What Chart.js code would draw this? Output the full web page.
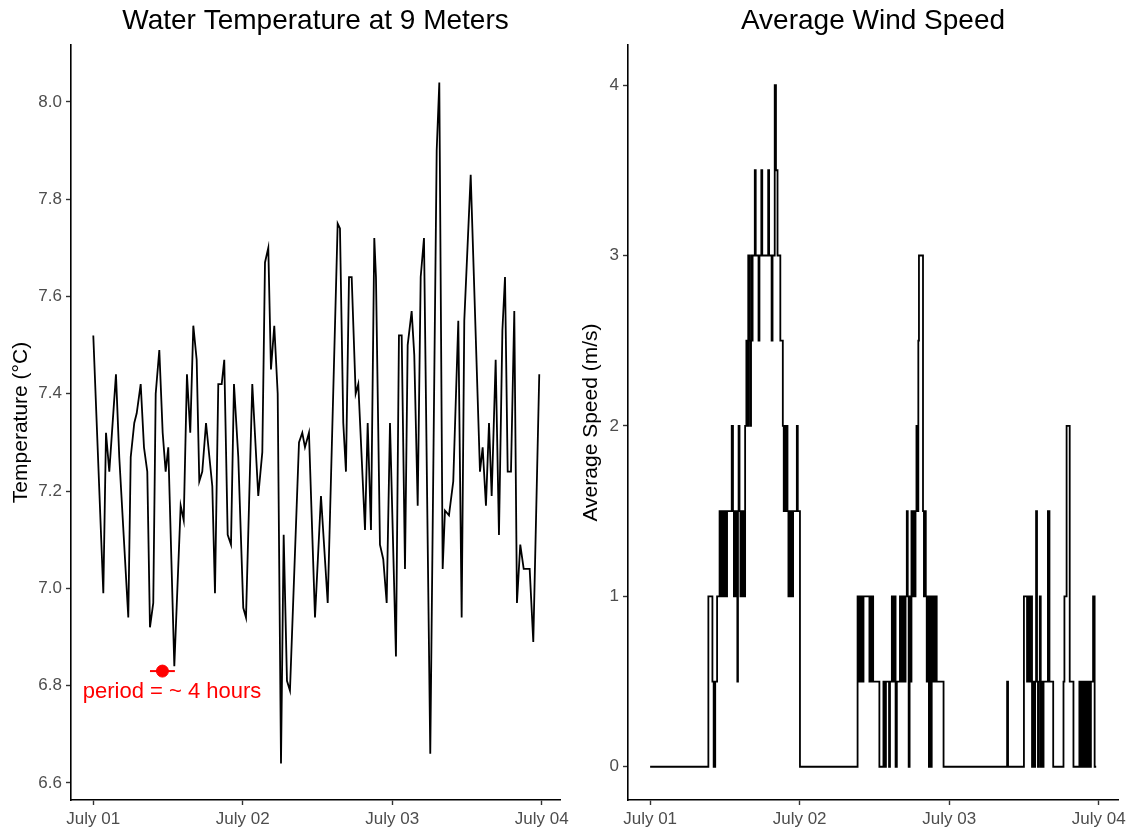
<!DOCTYPE html>
<html>
<head>
<meta charset="utf-8">
<script src="https://cdn.jsdelivr.net/npm/chart.js@4.4.1/dist/chart.umd.min.js"></script>
<style>
  body { margin: 0; background: #fff; }
  #wrap { position: relative; width: 1131px; height: 831px; }
  canvas { position: absolute; top: 0; }
  #tempChart { left: 0; }
  #windChart { left: 570px; }
</style>
</head>
<body>
<div id="wrap">
  <canvas id="tempChart" width="580" height="831"></canvas>
  <canvas id="windChart" width="561" height="831"></canvas>
</div>
<script>
// hours since July 01 00:00
const dayTicks = [0, 24, 48, 72];
const dayLabels = ['July 01', 'July 02', 'July 03', 'July 04'];

// water temperature at 9 m
const tempHours = [0.0, 1.61, 2.04, 2.57, 3.64, 4.17, 5.62, 6.01, 6.58, 6.97,
  7.61, 8.14, 8.67, 9.10, 9.63, 10.02, 10.60, 11.14, 11.62, 12.04,
  13.01, 14.03, 14.52, 15.04, 15.57, 16.06, 16.60, 17.02, 17.50, 18.10,
  19.11, 19.54, 20.07, 20.62, 21.03, 21.58, 22.11, 22.59, 23.28, 24.08,
  24.52, 25.53, 26.49, 27.14, 27.57, 28.10, 28.53, 29.06, 29.61, 30.14,
  30.57, 31.10, 31.58, 33.03, 33.56, 33.99, 34.63, 35.60, 36.56, 37.64,
  39.24, 39.61, 40.14, 40.57, 41.06, 41.49, 42.13, 42.55, 43.63, 44.06,
  44.59, 45.12, 45.39, 46.03, 46.56, 47.11, 47.64, 48.60, 49.08, 49.52,
  50.05, 50.48, 51.12, 51.54, 52.09, 52.57, 53.10, 54.11, 55.14, 55.56,
  56.10, 56.47, 57.11, 57.80, 58.61, 59.15, 59.57, 60.60, 62.09, 62.52,
  63.05, 63.54, 63.97, 64.61, 65.14, 65.69, 66.11, 66.54, 67.07, 67.60,
  68.03, 68.56, 69.11, 70.07, 70.65, 71.61];
const tempValues = [7.52, 6.99, 7.32, 7.24, 7.44, 7.27, 6.94, 7.27, 7.34, 7.36,
  7.42, 7.29, 7.24, 6.92, 6.97, 7.40, 7.49, 7.32, 7.24, 7.29,
  6.84, 7.17, 7.14, 7.44, 7.32, 7.54, 7.47, 7.22, 7.24, 7.34,
  7.21, 6.99, 7.42, 7.42, 7.47, 7.11, 7.09, 7.42, 7.27, 6.96,
  6.94, 7.42, 7.19, 7.28, 7.67, 7.70, 7.45, 7.54, 7.40, 6.64,
  7.11, 6.81, 6.79, 7.30, 7.32, 7.29, 7.32, 6.94, 7.19, 6.97,
  7.75, 7.74, 7.34, 7.24, 7.64, 7.64, 7.40, 7.42, 7.12, 7.34,
  7.12, 7.72, 7.64, 7.09, 7.06, 6.97, 7.34, 6.86, 7.52, 7.52,
  7.04, 7.50, 7.57, 7.48, 7.17, 7.64, 7.72, 6.66, 7.90, 8.04,
  7.04, 7.16, 7.15, 7.22, 7.55, 6.94, 7.55, 7.85, 7.24, 7.29,
  7.17, 7.34, 7.19, 7.47, 7.11, 7.53, 7.64, 7.24, 7.24, 7.57,
  6.97, 7.09, 7.04, 7.04, 6.89, 7.44];
const tempTicks = [6.6, 6.8, 7.0, 7.2, 7.4, 7.6, 7.8, 8.0];

// period marker: centre, half width (hours) and level
const periodCenter = 11.1;
const periodHalfWidth = 2;
const periodLevel = 6.83;
const periodLabel = 'period = ~ 4 hours';
const periodLabelHour = 12.65;
const periodLabelLevel = 6.787;

// average wind speed, value holds from each hour until the next one
const windHours = [0, 9.35, 10.0, 10.2, 10.45, 10.75, 11.15, 11.3, 11.45, 11.6,
  11.75, 11.9, 12.05, 12.2, 12.35, 13.1, 13.3, 13.45, 13.6, 13.75,
  13.9, 14.0, 14.1, 14.2, 14.35, 14.5, 14.65, 14.8, 14.95, 15.1,
  15.25, 15.45, 15.6, 15.75, 15.9, 16.05, 16.2, 16.3, 16.45, 16.8,
  16.95, 17.4, 17.55, 17.85, 18.0, 18.95, 19.1, 19.5, 19.65, 20.0,
  20.2, 20.45, 20.9, 21.3, 21.45, 21.6, 21.75, 21.9, 22.05, 22.2,
  22.35, 22.5, 22.65, 22.8, 22.95, 23.55, 23.7, 24.05,
  33.3, 33.45, 33.6, 33.75, 33.9, 34.05, 34.25, 35.2, 35.35, 35.5,
  35.65, 35.8, 36.8, 37.45, 37.7, 37.85, 38.35, 38.5, 38.8, 39.0,
  39.2, 39.4, 39.6, 40.1, 40.25, 40.4, 40.55, 40.7, 40.85, 41.0,
  41.2, 41.35, 41.5, 41.65, 41.8, 41.95, 42.1, 42.3, 42.45, 42.6,
  42.75, 42.9, 43.05, 43.15, 43.8, 43.95, 44.1, 44.25, 44.4, 44.6,
  44.75, 44.9, 45.05, 45.2, 45.35, 45.5, 45.65, 45.8, 46.0, 47.1,
  57.3, 57.45,
  60.0, 60.5, 60.65, 60.9, 61.1, 61.3, 61.45, 61.6, 61.8, 61.95,
  62.1, 62.25, 62.4, 62.55, 62.7, 62.85, 63.0, 63.15, 63.85, 64.1,
  64.7, 66.35, 66.5, 66.85, 67.35, 67.95, 68.9, 69.05, 69.2, 69.35,
  69.5, 69.65, 69.8, 69.95, 70.1, 70.25, 70.4, 70.6, 70.75, 71.1,
  71.35, 71.6];
const windSpeed = [0, 1, 0.5, 0, 0.5, 1, 1.5, 1, 1.5, 1,
  1.5, 1, 1.5, 1, 1.5, 2, 1.5, 1, 1.5, 1,
  1.5, 0.5, 1.5, 2, 1.5, 1, 1.5, 1, 1.5, 1,
  2, 2.5, 2, 3, 2.5, 2, 3, 2.5, 3, 3.5,
  3, 2.5, 3, 3.5, 3, 3.5, 3, 2.5, 3, 4,
  3.5, 3, 2.5, 2, 1.5, 2, 1.5, 2, 1.5, 1,
  1.5, 1, 1.5, 1, 1.5, 2, 1.5, 0,
  1, 0.5, 1, 0.5, 1, 0.5, 1, 0.5, 1, 0.5,
  1, 0.5, 0, 0.5, 0, 0.5, 0, 0.5, 1, 0.5,
  1, 0, 0.5, 1, 0.5, 1, 0.5, 1, 0.5, 1,
  1.5, 1, 0, 1, 0.5, 1.5, 1, 1.5, 1, 1.5,
  2, 1.5, 2.5, 3, 1.5, 1, 1.5, 1, 0.5, 1,
  0, 1, 0, 1, 0.5, 1, 0.5, 1, 0.5, 0,
  0.5, 0,
  1, 0.5, 1, 0.5, 1, 0, 0.5, 0, 0.5, 1.5,
  0.5, 0, 0.5, 1, 0, 0.5, 0, 0.5, 1.5, 0.5,
  0, 0.5, 1, 2, 0.5, 0, 0.5, 0, 0.5, 0,
  0.5, 0, 0.5, 0, 0.5, 0, 0.5, 0, 0.5, 1,
  0, 0];
const windTicks = [0, 1, 2, 3, 4];

const FONT = '"Liberation Sans", Arial, sans-serif';

const panelTitle = {
  id: 'panelTitle',
  afterDraw(chart, args, opts) {
    const { ctx, chartArea } = chart;
    ctx.save();
    ctx.font = '28px ' + FONT;
    ctx.fillStyle = '#000';
    ctx.textAlign = 'center';
    ctx.textBaseline = 'middle';
    ctx.fillText(opts.text, (chartArea.left + chartArea.right) / 2, 21);
    ctx.restore();
  }
};

// red error bar + label under the period point
const periodMark = {
  id: 'periodMark',
  afterDatasetsDraw(chart) {
    const { ctx, scales: { x, y } } = chart;
    const py = y.getPixelForValue(periodLevel);
    ctx.save();
    ctx.strokeStyle = '#ff0000';
    ctx.lineWidth = 2;
    ctx.beginPath();
    ctx.moveTo(x.getPixelForValue(periodCenter - periodHalfWidth), py);
    ctx.lineTo(x.getPixelForValue(periodCenter + periodHalfWidth), py);
    ctx.stroke();
    ctx.fillStyle = '#ff0000';
    ctx.font = '22px ' + FONT;
    ctx.textAlign = 'center';
    ctx.textBaseline = 'middle';
    ctx.fillText(periodLabel, x.getPixelForValue(periodLabelHour), y.getPixelForValue(periodLabelLevel));
    ctx.restore();
  }
};

function xScale(min, max) {
  return {
    type: 'linear',
    min: min,
    max: max,
    afterBuildTicks: (s) => { s.ticks = dayTicks.map(v => ({ value: v })); },
    afterFit: (s) => { s.height = 31; s.paddingLeft = 0; s.paddingRight = 0; },
    border: { display: true, color: '#000', width: 1.6 },
    grid: { drawOnChartArea: false, drawTicks: true, tickLength: 5, tickColor: '#333', tickWidth: 1.4 },
    ticks: {
      autoSkip: false,
      maxRotation: 0,
      padding: 4,
      color: '#4d4d4d',
      font: { family: FONT, size: 17 },
      callback: (v) => dayLabels[dayTicks.indexOf(v)]
    }
  };
}

function yScale(min, max, ticks, width, title, fmt) {
  return {
    min: min,
    max: max,
    afterBuildTicks: (s) => { s.ticks = ticks.map(v => ({ value: v })); },
    afterFit: (s) => { s.width = width; },
    border: { display: true, color: '#000', width: 1.6 },
    grid: { drawOnChartArea: false, drawTicks: true, tickLength: 5, tickColor: '#333', tickWidth: 1.4 },
    ticks: {
      padding: 4,
      color: '#4d4d4d',
      font: { family: FONT, size: 17 },
      callback: fmt
    },
    title: {
      display: true,
      text: title,
      color: '#000',
      font: { family: FONT, size: 21 },
      padding: { top: 9, bottom: 0 }
    }
  };
}

new Chart(document.getElementById('tempChart'), {
  type: 'line',
  data: {
    datasets: [{
      data: [{ x: periodCenter, y: periodLevel }],
      showLine: false,
      pointRadius: 6,
      pointBackgroundColor: '#ff0000',
      pointBorderColor: '#ff0000'
    }, {
      data: tempHours.map((h, i) => ({ x: h, y: tempValues[i] })),
      borderColor: '#000',
      borderWidth: 1.8,
      pointRadius: 0,
      tension: 0
    }]
  },
  options: {
    responsive: false,
    animation: false,
    layout: { padding: { top: 45, right: 20, left: 0, bottom: 0 } },
    plugins: {
      legend: { display: false },
      tooltip: { enabled: false },
      panelTitle: { text: 'Water Temperature at 9 Meters' }
    },
    scales: {
      x: xScale(-3.58, 74.94),
      y: yScale(6.565, 8.117, tempTicks, 71, 'Temperature (°C)', v => v.toFixed(1))
    }
  },
  plugins: [panelTitle, periodMark]
});

new Chart(document.getElementById('windChart'), {
  type: 'line',
  data: {
    datasets: [{
      data: windHours.map((h, i) => ({ x: h, y: windSpeed[i] })),
      borderColor: '#000',
      borderWidth: 1.8,
      pointRadius: 0,
      stepped: true
    }]
  },
  options: {
    responsive: false,
    animation: false,
    layout: { padding: { top: 45, right: 13, left: 0, bottom: 0 } },
    plugins: {
      legend: { display: false },
      tooltip: { enabled: false },
      panelTitle: { text: 'Average Wind Speed' }
    },
    scales: {
      x: xScale(-3.55, 75.1),
      y: yScale(-0.195, 4.235, windTicks, 58, 'Average Speed (m/s)', v => String(v))
    }
  },
  plugins: [panelTitle]
});
</script>
</body>
</html>
